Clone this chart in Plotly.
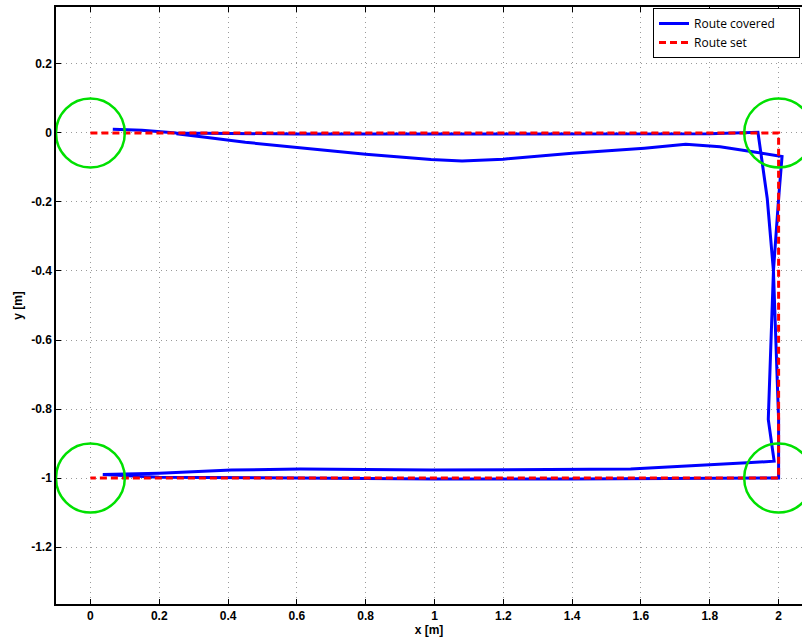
import plotly.graph_objects as go

# ---- data ----
route_x = [0.065, 0.15, 0.25, 0.6, 1.0, 1.4, 1.8, 1.94,
           1.967, 1.985, 1.975, 1.97, 1.987,
           1.908, 1.57, 1.2, 0.99, 0.8, 0.61, 0.41, 0.2, 0.036,
           0.2, 0.6, 1.0, 1.4, 1.8, 1.95, 2.0,
           2.0, 1.995, 1.985, 2.0, 2.01,
           1.92, 1.83, 1.73, 1.61, 1.40, 1.2, 1.08, 0.99, 0.80, 0.60, 0.45, 0.34, 0.25]
route_y = [0.011, 0.008, 0.0, -0.003, -0.003, -0.003, -0.002, 0.002,
           -0.19, -0.40, -0.70, -0.83, -0.951,
           -0.956, -0.974, -0.977, -0.977, -0.975, -0.974, -0.977, -0.986, -0.99,
           -0.998, -1.0, -1.003, -1.003, -1.002, -1.001, -1.0,
           -0.83, -0.70, -0.40, -0.19, -0.068,
           -0.054, -0.04, -0.033, -0.044, -0.059, -0.076, -0.081, -0.077, -0.062, -0.043, -0.027, -0.013, -0.002]

set_x = [0, 2, 2, 0]
set_y = [0, 0, -1, -1]

circle_cx = [0, 2, 0, 2]
circle_cy = [0, 0, -1, -1]
circle_r = 0.1

x_ticks = [0, 0.2, 0.4, 0.6, 0.8, 1.0, 1.2, 1.4, 1.6, 1.8, 2.0]
x_labels = ["0", "0.2", "0.4", "0.6", "0.8", "1", "1.2", "1.4", "1.6", "1.8", "2"]
y_ticks = [0.2, 0, -0.2, -0.4, -0.6, -0.8, -1.0, -1.2]
y_labels = ["0.2", "0", "-0.2", "-0.4", "-0.6", "-0.8", "-1", "-1.2"]

pad = "\u00a0" * 6

fig = go.Figure()
fig.add_trace(go.Scatter(x=route_x, y=route_y, mode="lines", name="Route covered" + pad,
                         line=dict(color="#0000ff", width=3)))
fig.add_trace(go.Scatter(x=set_x, y=set_y, mode="lines", name="Route set",
                         line=dict(color="#ff0000", width=3, dash="7px,4px")))

for cx, cy in zip(circle_cx, circle_cy):
    fig.add_shape(type="circle", xref="x", yref="y",
                  x0=cx - circle_r, x1=cx + circle_r, y0=cy - circle_r, y1=cy + circle_r,
                  line=dict(color="#00e000", width=2.5), layer="above")

axfont = dict(family="Liberation Sans", size=12, color="black")
common = dict(showgrid=True, gridcolor="#9a9a9a", griddash="1px,4px", gridwidth=1,
              zeroline=False, showline=True, linecolor="black", linewidth=1.5,
              ticks="inside", ticklen=5, tickcolor="black", tickfont=axfont)

fig.update_layout(
    width=802, height=639,
    margin=dict(l=56, r=0, t=7, b=35, autoexpand=False),
    paper_bgcolor="white", plot_bgcolor="white",
    showlegend=True,
    legend=dict(x=(653 - 56) / 746, y=1 - 1 / 597, xanchor="left", yanchor="top",
                bgcolor="white", bordercolor="black", borderwidth=1,
                font=dict(family="Open Sans", size=12, color="black"),
                itemwidth=30, tracegroupgap=0),
    xaxis=dict(range=[-0.1, 2.068], tickvals=x_ticks,
               ticktext=["<b>%s</b>" % t for t in x_labels], mirror="ticks",
               title=dict(text="<b>x [m]</b>", standoff=2, font=axfont), **common),
    yaxis=dict(range=[-1.365, 0.365], tickvals=y_ticks,
               ticktext=["<b>%s</b>" % t for t in y_labels], mirror=False,
               title=dict(text="<b>y [m]</b>", standoff=6, font=axfont), **common),
)

fig.write_html("out.html")
